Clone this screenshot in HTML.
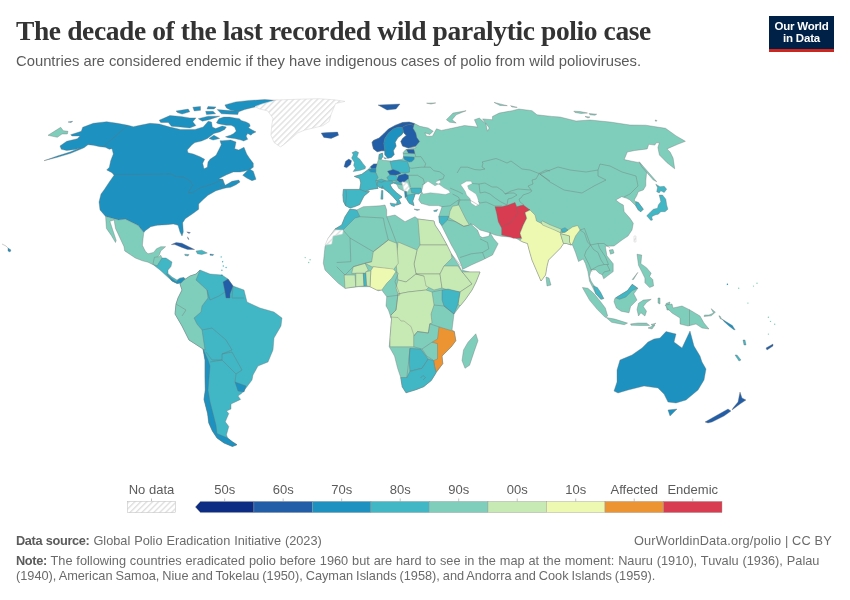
<!DOCTYPE html>
<html><head><meta charset="utf-8">
<style>
html,body{margin:0;padding:0;background:#fff;}
body{width:850px;height:600px;position:relative;overflow:hidden;font-family:"Liberation Sans",sans-serif;}
.title,.sub,.foot,.logo,svg{will-change:transform;}
.title{position:absolute;left:16px;top:15px;font-family:"Liberation Serif",serif;font-weight:bold;font-size:27.5px;color:#333;white-space:nowrap;letter-spacing:-0.39px;}
.sub{position:absolute;left:16px;top:53px;font-size:14.8px;color:#5b5b5b;white-space:nowrap;}
.logo{position:absolute;left:769px;top:16px;width:65px;height:33px;background:#002147;border-bottom:3px solid #ce261e;color:#fff;font-weight:bold;font-size:11.5px;line-height:12px;text-align:center;}
.logo div{position:relative;top:4px;letter-spacing:-0.2px;}
.foot{position:absolute;left:16px;font-size:12.75px;color:#6b6b6b;white-space:nowrap;}
.foot b{color:#5b5b5b;letter-spacing:-0.35px;}
svg{position:absolute;left:0;top:0;}
</style></head><body>
<div class="title">The decade of the last recorded wild paralytic polio case</div>
<div class="sub">Countries are considered endemic if they have indigenous cases of polio from wild polioviruses.</div>
<div class="logo"><div>Our World<br>in Data</div></div>
<svg width="850" height="600" viewBox="0 0 850 600">
<defs><pattern id="hatch" patternUnits="userSpaceOnUse" width="4.2" height="4.2" patternTransform="rotate(-45)"><rect width="4.2" height="4.2" fill="#fff"/><rect width="4.2" height="1.4" fill="#e0e0e0"/></pattern></defs>
<g stroke-linejoin="round"><path d="M44,160.7L57.3,156L70.7,151.8L80,148L75,149.5L66.7,150.5L61.3,149.3L60,146L66.7,141.3L77.3,138.7L80,136L72,136L70.7,134.7L81.3,131.3L82.7,127.3L93.3,123.3L106.7,121.7L117.3,123.3L128,125.3L133.3,126.7L140,125.3L150,123.3L159.2,124L169.9,127.1L180.6,129.4L191.3,129.4L195,129.4L203.2,127L208.2,121.2L211.5,122L212.3,127L215.6,128.6L222.2,126.1L226.3,127L224.7,129.4L219.7,131.9L213.9,133.5L207.4,138.5L201.6,141L195,142.6L192,144.7L187.3,150L188,152.7L193.3,154L200,156.7L204.7,159.3L202.7,163.3L204,168.7L207.3,167.3L208,162L210,159.3L216,155.3L218.7,150L221.3,144.7L220,140.7L222.7,140.7L230.7,140L236,142L234.7,148.7L238.7,150L244,147.3L246.7,154L249.3,158L253.3,163.3L253.3,167.3L249.3,170L244,171.3L240,172L233.3,172L226.7,174.7L218.7,178.7L222.7,179.3L224,182.7L225.3,185.3L232,181.3L238.7,180L240,182L236,184.7L230.7,187.3L225.3,188L216,190.7L208,195.3L202.7,200L198.7,204L198.7,209.3L193.3,213.3L185.3,218.7L182.7,222.7L183.3,232L182,236L180,232L178,225.3L173.3,224L166.7,224.7L157.3,225.3L150.7,226.7L145.3,230.7L143.8,232.6L138.1,225.5L132.5,222.7L125.4,219.2L118.4,219.9L105.6,216.4L100,210L99,202L101,194L104,190L109.3,182L114,175.3L112,172.7L106.7,170L109.3,167.3L110.7,160.7L113.3,154L112,148.7L109.3,149.3L105.3,147.3L100,146.7L93.3,145.3L88,144.7L84,147.8L70.7,153.3L57.3,157.3Z" fill="#1d91c0" stroke="#6f6f6f" stroke-width="0.35"/><path d="M209,138.5L213.9,135.2L219.7,138.5L213.1,140.1Z" fill="#1d91c0" stroke="#6f6f6f" stroke-width="0.35"/><path d="M242.7,175.3L249.3,168.7L253.3,171.3L256,179.3L252,180.7L246.7,178Z" fill="#1d91c0" stroke="#6f6f6f" stroke-width="0.35"/><path d="M216.4,122.8L218.9,118.7L223.8,117.1L229.6,117.1L234.5,117.9L239.5,118.7L241.1,120.4L246.1,122L249.4,123.7L250.2,126.1L248.5,127.8L252.7,130.2L256,131.9L252.7,133.5L251,135.2L247.7,133.5L246.1,136L247.7,139.3L243.6,141L241.1,140.1L234.5,138.5L228,137.7L225.5,136.8L230.4,135.2L233.7,133.5L236.2,131.1L234.5,127L231.2,125.3L226.3,125.3L222.2,124.5L218.1,123.7Z" fill="#1d91c0" stroke="#6f6f6f" stroke-width="0.35"/><path d="M159.2,120.2L169.9,115.6L180.6,116.4L189.8,117.9L195.9,117.9L192.8,121.8L195.9,125.6L189.8,127.9L180.6,127.1L171.4,126.3L168.3,122.5L160.7,122.5Z" fill="#1d91c0" stroke="#6f6f6f" stroke-width="0.35"/><path d="M198.3,118.7L208.2,116.2L219.7,116.2L209.8,119.5L202.4,121.2Z" fill="#1d91c0" stroke="#6f6f6f" stroke-width="0.35"/><path d="M224.9,104.9L235.6,101.9L249.4,100.4L264.7,99.6L277.7,100.4L266.2,104.2L254,107.2L244.8,109.5L238.7,111.8L231,110.3L226.5,108Z" fill="#1d91c0" stroke="#6f6f6f" stroke-width="0.35"/><path d="M176,111L188.2,109.1L189.8,111.8L182.1,114.1L177.5,112.6Z" fill="#1d91c0" stroke="#6f6f6f" stroke-width="0.35"/><path d="M192.8,107.2L200.5,106.5L200.5,110.3L194.3,111Z" fill="#1d91c0" stroke="#6f6f6f" stroke-width="0.35"/><path d="M205.7,111.3L213.1,111.3L215.6,113.8L206.5,114.6Z" fill="#1d91c0" stroke="#6f6f6f" stroke-width="0.35"/><path d="M217.2,109.6L238.7,111.3L237.8,114.6L221.4,113.8Z" fill="#1d91c0" stroke="#6f6f6f" stroke-width="0.35"/><path d="M208,106.5L216,107L214,109L207,109Z" fill="#1d91c0" stroke="#6f6f6f" stroke-width="0.35"/><path d="M255,106.6L262,104L276,100L299.5,99.2L318.5,98.7L334.4,99.8L345,101.4L335.5,103.5L333.4,108.8L331.2,114.1L329.1,121.5L322.8,125.7L314.3,127.8L304.8,130L297.4,133.1L290,139.5L283.6,144.8L280.4,146.9L274.1,142.6L270.9,135.2L271.9,124.6L273,118.3L267.7,110.9L259.2,108.8Z" fill="url(#hatch)" stroke="#d8d8d8" stroke-width="0.6"/><path d="M321.2,133.1L327,132.6L337.6,132.1L338.6,135.2L331.2,138.4L323.8,137.4Z" fill="#225ea8" stroke="#6f6f6f" stroke-width="0.35"/><path d="M48,135.3L60.7,127.3L63.3,130.7L68,131.3L67.3,134L62,134L57.3,137.3Z" fill="#7fcdbb" stroke="#6f6f6f" stroke-width="0.35"/><path d="M68,122L72.7,121.3L71,122.5Z" fill="#1d91c0" stroke="#6f6f6f" stroke-width="0.35"/><path d="M105.6,216.4L118.4,219.9L125.4,219.2L132.5,222.7L138.1,225.5L143.8,232.6L143.1,238.2L142.4,245.3L145.2,251L148,253.8L153.6,252.4L156.5,248.8L160.7,246.7L165.6,246.7L160.7,251L159.3,255.2L156.5,258L153.6,265L148,262.2L142.4,260.8L135.3,258L124.7,250.9L124,246.7L115.5,228.4L114.1,219.9L109.9,221.3L116.2,240.4L115.5,242.5L111.3,235.4L106.4,228.4Z" fill="#7fcdbb" stroke="#6f6f6f" stroke-width="0.35"/><path d="M153.6,265L156.5,258L160,258L166,258L172,262L171,266.5L168,270L168,273.5L172,277L177,280L180,278L184,277.5L186,280L185,282.5L177,283.4L172,281L166,275.5L160,270Z" fill="#41b6c4" stroke="#6f6f6f" stroke-width="0.35"/><path d="M152.9,264.4L154.4,257.3L159.3,256.6L160.7,255.2L162.1,258L159.3,262.2L157.2,265.8Z" fill="#7fcdbb" stroke="#6f6f6f" stroke-width="0.35"/><path d="M166.4,273.5L170.6,277.8L176.2,282L179,279.2L183.3,277.8L186,280L185,282.5L177,283.4L172,281Z" fill="#1d91c0" stroke="#6f6f6f" stroke-width="0.35"/><path d="M171.3,244.6L176.2,242.5L181.9,243.2L188.9,246.7L194.6,249.5L187.5,249.5L181.9,247.4L174.8,244.6Z" fill="#225ea8" stroke="#6f6f6f" stroke-width="0.35"/><path d="M196,251L201.7,250.2L207.3,253L201.7,254.5L197.4,253.8Z" fill="#41b6c4" stroke="#6f6f6f" stroke-width="0.35"/><path d="M184.7,254.2L189,254.5L188,256L185,255.5Z" fill="#41b6c4" stroke="#6f6f6f" stroke-width="0.35"/><path d="M210,254L213.7,254.5L213,255.5L210,255.2Z" fill="#1d91c0" stroke="#6f6f6f" stroke-width="0.35"/><path d="M186.8,231.9L190.4,232.6L189,233.5Z" fill="#225ea8" stroke="#6f6f6f" stroke-width="0.35"/><path d="M187.5,236.8L189,239.6L188,239Z" fill="#225ea8" stroke="#6f6f6f" stroke-width="0.35"/><path d="M8,248L11,250L10,252L8,251Z" fill="#1d91c0" stroke="#6f6f6f" stroke-width="0.35"/><path d="M184,280L190,276L196,274L200,270L210,274L222,275L228,279L233,286L244,290L247,302L260,308L274,312L282,318L281,326L274,338L273,350L268,362L258,366L253,375L252,380L246,388L242,393L238,396L240.6,399.4L231,404L231,409L226.5,411L228.8,413.5L225.3,421.8L228.8,426.5L226.5,434.7L227.6,438L232.4,441.8L237,444.7L232.4,446.5L224,443L217,438L212.4,431L208.8,423L207.6,413.5L204,399.4L205.3,390L205,376L205,360L203,349L189,340L182,326L175,314L176,304L178,298L182,290L180,284Z" fill="#41b6c4" stroke="#6f6f6f" stroke-width="0.35"/><path d="M184,280L190,276L196,274L200,270L196,280L207,290L208,298L202,306L201,312L194,318L197,324L202,330L205,350L203,349L189,340L182,326L175,314L176,304L178,298L182,290L180,284Z" fill="#7fcdbb" stroke="#6f6f6f" stroke-width="0.35"/><path d="M223,282L228,279L233,286L230,294L230,298L226,298L225,292Z" fill="#225ea8" stroke="#6f6f6f" stroke-width="0.35"/><path d="M203,349L208,360L210,366L208,390L210,401.8L216,425.3L217,433.5L227.6,438L232.4,441.8L237,444.7L232.4,446.5L224,443L217,438L212.4,431L208.8,423L207.6,413.5L204,399.4L205.3,390L205,376L205,360Z" fill="#1d91c0" stroke="#6f6f6f" stroke-width="0.35"/><path d="M235,382L246,386L244,392L238,391Z" fill="#1d91c0" stroke="#6f6f6f" stroke-width="0.35"/><path d="M372.1,142.3L373.5,140.4L379.1,138.1L383.8,133.8L388.5,129.1L395.1,125.4L402.6,122.5L409.2,122.1L414.4,123.5L420,126.3L428.2,128L433.2,131.2L429.9,134.5L424.9,132.9L426.6,136.2L432.4,136.2L436.5,128.8L441.4,130.4L453,128L464.5,125.5L477.7,127.1L474.4,119.7L479.3,118.1L485.9,123.8L487.5,131.2L489.2,128L482.6,118.9L492.5,119.7L492.5,116.4L499.1,113.1L512.3,110.7L518.8,109L532,110.7L537,114.8L551.8,116.4L560,117L576,121L590,120L610,122L630,125L645.6,125.2L665.5,128.3L676.2,135.9L685.4,141.3L677.7,144.3L667,148.9L670.1,152L673.1,158.1L674.7,168.8L667,162.7L659.4,155L657.9,147.4L659.4,142.8L656.3,142.8L654.8,145.1L648.7,144.3L647.2,148.9L634.9,150.5L627.3,152L624.2,159.6L631.9,161.2L639.5,162.7L646.7,171.7L645.8,180.8L645.8,185.8L643.3,190L638.3,191.7L636.7,195.8L634.2,200L635.8,201.7L638.3,202.5L643.3,209.2L640.8,211.7L638.3,210L635.8,205.8L634,204L630,200L626.7,198.3L621.7,196.7L615.8,200L620,203.3L623.3,205L624.2,211.7L630,218.3L633.3,223.3L632,230L628,236L622,240L614,246L605.3,246.3L606.9,255.8L613.2,263.7L613.2,271.6L603.7,278.8L602.2,274.8L599,273.2L595.8,270L591.1,270L589.5,276.4L591.1,281.1L594.2,285.9L599,290.6L603.7,298.5L600.6,299.3L595.8,293.8L592.7,287.5L589.5,281.1L587.9,271.6L585.5,263.7L583.2,259L578.5,261.5L575.5,252.5L572.5,245L571,245L566.5,243.5L563.5,243.5L560.5,248L554.5,254L548.5,260L547,266L545.5,275L541,281L536.5,270.5L532,260L529,249.5L527.5,243.5L523,242L520,240.5L512,236L510,237L501.3,236.3L495,235L488.8,232.5L480,230L473.8,225L470,223.8L471.3,224.5L477.5,230L480,236.3L482.5,237.5L488.8,236.3L490,232.5L493.8,238.8L498.1,243.8L495,250L492.5,255L482.5,260L471.3,265L462.5,269.4L461.3,265L456.3,253.8L451.3,245L446.3,235L441.3,225L439.4,221.3L438.8,216.3L442,206.8L438.5,205.6L429.2,205.6L421,203.3L418.7,199.8L419.8,196.3L421.6,191.6L418.7,194L415.2,194L412.8,201L414,205.6L409.3,203.3L407,199.8L405.2,197.5L404.7,191.6L398.7,188.4L396.5,184L393.3,182.9L390,184.6L392.2,188.4L396.5,192.7L402,197L398.7,199.2L400.9,203.5L396.5,205.2L397.1,201.4L393.3,197L389,192.7L383.5,188.4L379.2,187.3L377,185.1L378.1,188.4L370.5,189.4L365.1,191.6L369.4,191.6L364,196L361.8,200.3L359.7,204.6L354.3,206.8L349.9,207.9L345.6,205.7L343.4,201.4L342.9,194.9L343.4,189.4L359.7,189.4L360.8,182.9L359.7,178.6L354.3,176.4L361.8,174.3L368.4,169.4L370.5,166.7L373.8,164L377,164L378.2,160.2L379.1,154.5L382.4,153.1L382.9,156.4L381,159.2L382.9,160.2L391.4,161.1L402.6,159.2L403.6,156.4L403.1,152.6L405.5,149.8L408.3,148.9L415.8,148L415.8,147L408.3,147.9L402.6,146.1L400.8,141.4L402.6,138.5L406.4,135.2L404.5,133.8L403.6,131.9L401.7,134.8L397.9,137.6L395.1,142.3L396.1,146.1L393.2,150.8L394.2,154.5L391.4,157.4L387.6,158.3L384.8,154.5L384.8,150.8L381.5,150.8L377.2,151.7L373.5,148.9L372.5,145.1Z" fill="#7fcdbb" stroke="#6f6f6f" stroke-width="0.35"/><path d="M422.2,189.3L423.3,184.7L428,181.2L431.5,183.5L435,185.8L438.5,184L440.8,182.3L439.7,180L435,182.3L439.7,184.7L444.3,188.1L449,190.5L450.1,192.8L445.5,194.6L437.3,193.4L430.3,192.8L423.3,194L421.6,191.6Z" fill="#fff" stroke="#888" stroke-width="0.3"/><path d="M460.6,184.7L466.5,181.2L471.1,181.2L472.3,183.5L467.6,185.8L468.8,189.3L473,192L476,194L477.5,197.5L478.5,201L479.3,204.5L475.8,206.2L471.1,203.3L470,198.6L466.5,195.1L465.3,191.6L463,188.1Z" fill="#fff" stroke="#888" stroke-width="0.3"/><path d="M414,209.1L419.8,209.7L417,210.5Z" fill="#41b6c4" stroke="#6f6f6f" stroke-width="0.35"/><path d="M372.1,142.3L373.5,140.4L379.1,138.1L383.8,133.8L388.5,129.1L395.1,125.4L402.6,122.5L409.2,122.1L414.4,123.5L413.9,125.4L410.2,124.4L405.5,125.4L402.6,127.2L397.9,127.2L393.2,129.1L388.5,132.9L384.8,138.5L383.8,143.2L384.8,150.8L381.5,150.8L377.2,151.7L373.5,148.9L372.5,145.1Z" fill="#225ea8" stroke="#6f6f6f" stroke-width="0.35"/><path d="M383.8,143.2L384.8,138.5L388.5,132.9L393.2,129.1L397.9,127.2L402.6,127.2L403.6,131.9L401.7,134.8L397.9,137.6L395.1,142.3L396.1,146.1L393.2,150.8L394.2,154.5L391.4,157.4L387.6,158.3L384.8,154.5L384.8,150.8Z" fill="#1d91c0" stroke="#6f6f6f" stroke-width="0.35"/><path d="M402.6,127.2L405.5,125.4L410.2,124.4L413.9,125.4L413,128.2L415.8,132.9L416.8,137.6L419.6,141.4L415.8,146.1L408.3,147.9L402.6,146.1L400.8,141.4L402.6,138.5L406.4,135.2L404.5,133.8L403.6,131.9Z" fill="#225ea8" stroke="#6f6f6f" stroke-width="0.35"/><path d="M406.4,149.4L413.9,149.4L414.9,153.6L408.3,153.1Z" fill="#225ea8" stroke="#6f6f6f" stroke-width="0.35"/><path d="M403.4,156.5L413.9,157L414.3,159L412,161.6L409.2,162.1L404.5,159.6Z" fill="#1d91c0" stroke="#6f6f6f" stroke-width="0.35"/><path d="M379.1,154.5L382.4,153.1L382.9,156.4L381,159.2L379.1,159.2Z" fill="#41b6c4" stroke="#6f6f6f" stroke-width="0.35"/><path d="M383.8,157.4L386.6,158.3L385,159Z" fill="#41b6c4" stroke="#6f6f6f" stroke-width="0.35"/><path d="M352.1,152.6L355.9,151L358.6,152.6L357,156.9L359.7,159.1L362.9,163.4L365.6,166.7L365.1,168.8L359.7,170.5L353.2,171.6L355.3,168.3L353.7,165.6L354.3,162.3L351.6,158L353.2,154.8Z" fill="#41b6c4" stroke="#6f6f6f" stroke-width="0.35"/><path d="M344,166.7L345.6,161.3L348.8,159.1L351.6,160.7L350.5,164.5L346.7,167.8Z" fill="#225ea8" stroke="#6f6f6f" stroke-width="0.35"/><path d="M370.5,166.7L373.8,164L377,164L375.9,168.3L371.6,168.8Z" fill="#225ea8" stroke="#6f6f6f" stroke-width="0.35"/><path d="M368.4,169.4L371.6,168.8L375.9,168.3L375.9,172.6L370.5,172.1Z" fill="#1d91c0" stroke="#6f6f6f" stroke-width="0.35"/><path d="M354.3,176.4L361.8,174.3L368.4,169.4L370.5,172.1L375.9,172.6L378.1,177.5L375.9,180.8L377,185.1L378.1,188.4L370.5,189.4L365.1,191.6L359.7,189.4L360.8,182.9L359.7,178.6Z" fill="#41b6c4" stroke="#6f6f6f" stroke-width="0.35"/><path d="M343.4,189.4L359.7,189.4L365.1,191.6L369.4,191.6L364,196L361.8,200.3L359.7,204.6L354.3,206.8L349.9,207.9L345.6,205.7L343.4,201.4L342.9,194.9Z" fill="#41b6c4" stroke="#6f6f6f" stroke-width="0.35"/><path d="M390,161.3L398.7,160.2L407.4,161.3L409.5,167.8L409.5,172.1L405.2,173.2L398.7,172.6L392.2,169.9L391.1,165.6Z" fill="#41b6c4" stroke="#6f6f6f" stroke-width="0.35"/><path d="M387.5,171.2L393.3,169.4L398.7,171.5L401,173.5L396,175.3L390,175Z" fill="#225ea8" stroke="#6f6f6f" stroke-width="0.35"/><path d="M398.7,175.4L405.2,173.7L408.5,175.4L408.5,178.6L404.1,181.9L399.8,182.4L396.5,179.7Z" fill="#225ea8" stroke="#6f6f6f" stroke-width="0.35"/><path d="M386.8,177.5L390,174.8L395.5,175.4L397.6,177.5L396.5,180.8L388.9,180.8Z" fill="#41b6c4" stroke="#6f6f6f" stroke-width="0.35"/><path d="M375.9,180.8L381.4,179.1L385.7,180.8L381.4,182.4Z" fill="#41b6c4" stroke="#6f6f6f" stroke-width="0.35"/><path d="M377,181.9L381.4,182.4L385.7,180.8L392.2,180.8L393.3,182.9L390,184.6L392.2,188.4L396.5,192.7L402,197L398.7,199.2L400.9,203.5L396.5,205.2L397.1,201.4L393.3,197L389,192.7L383.5,188.4L379.2,187.3L377,185.1Z" fill="#41b6c4" stroke="#6f6f6f" stroke-width="0.35"/><path d="M390,203L396.5,204.1L394.4,206.8L391.1,205.7Z" fill="#41b6c4" stroke="#6f6f6f" stroke-width="0.35"/><path d="M381.4,190.5L383,190.5L383,199.2L380.8,199.2Z" fill="#41b6c4" stroke="#6f6f6f" stroke-width="0.35"/><path d="M381.4,188.4L382.6,185.8L383,188Z" fill="#41b6c4" stroke="#6f6f6f" stroke-width="0.35"/><path d="M393.3,182.9L396.5,181.5L399.8,182.4L403,185.1L396.5,184Z" fill="#41b6c4" stroke="#6f6f6f" stroke-width="0.35"/><path d="M402,181.9L407.4,182.9L409.5,188.4L407.4,191.6L404.1,190.5L403,186.2Z" fill="url(#hatch)" stroke="#d8d8d8" stroke-width="0.6"/><path d="M404.7,191.6L406.4,191.6L407,196.3L405.2,197.5Z" fill="#1d91c0" stroke="#6f6f6f" stroke-width="0.35"/><path d="M407,195.1L415.2,194L412.8,201L414,205.6L409.3,203.3L407,199.8Z" fill="#41b6c4" stroke="#6f6f6f" stroke-width="0.35"/><path d="M410.5,188.1L421,188.1L421.6,191.6L418.7,194L411.7,192.8Z" fill="#41b6c4" stroke="#6f6f6f" stroke-width="0.35"/><path d="M433.6,210.6L437.8,209.4L436.5,211.5L434,211.6Z" fill="#41b6c4" stroke="#6f6f6f" stroke-width="0.35"/><path d="M452.5,206.3L458.8,205L462.5,212.5L466.3,220L469.4,225L463.8,226.3L455,221.3L448.8,217.5L450,211.3Z" fill="#c7e9b4" stroke="#6f6f6f" stroke-width="0.35"/><path d="M438.8,216.3L448.8,216.3L447.5,220L441.9,225.6L439.4,222.5Z" fill="#41b6c4" stroke="#6f6f6f" stroke-width="0.35"/><path d="M495,206.7L501.7,206.7L508.3,205L515,202.5L516.7,206.7L520,205.8L523.3,205L530,210L525,212.5L526.7,218.3L523.3,225L520,233.3L521.7,238.3L513.3,238.3L510,237L501.7,235L501.7,228.3L498.3,221.7L496.7,213.3Z" fill="#d73c50" stroke="#6f6f6f" stroke-width="0.35"/><path d="M529,209L535,215L536.5,221L542.5,224L554.5,229.2L561.2,233L565,232.2L572.5,227L577.7,225.5L580,230L575.5,236L572.5,243.5L571,245L569.5,242L569.5,236L560.5,233.7L562,239L563.5,243.5L560.5,248L554.5,254L548.5,260L547,266L545.5,275L541,281L536.5,270.5L532,260L529,249.5L527.5,243.5L523,242L520,240.5L521.7,238.3L520,233.3L523.3,225L526.7,218.3L525,212.5L530,210Z" fill="#edf8b1" stroke="#6f6f6f" stroke-width="0.35"/><path d="M541,222L542.5,225L554.5,230L560.5,232.8L561.2,229.2L550,224.8L542.5,221Z" fill="#c7e9b4" stroke="#6f6f6f" stroke-width="0.35"/><path d="M560.5,233.7L569.5,236L569.5,242L571,245L566.5,243.5L563.5,243.5L562,239Z" fill="#c7e9b4" stroke="#6f6f6f" stroke-width="0.35"/><path d="M561.2,229.2L565,227.7L568,230L565,232.2L562,232.2Z" fill="#41b6c4" stroke="#6f6f6f" stroke-width="0.35"/><path d="M546,277L549,278L551,285L547,286Z" fill="#7fcdbb" stroke="#6f6f6f" stroke-width="0.35"/><path d="M593.4,285.9L597.4,287.5L600.6,292.2L603.7,298.5L601.4,299.3L595.8,293.8Z" fill="#41b6c4" stroke="#6f6f6f" stroke-width="0.35"/><path d="M582.4,287.5L587.9,288.3L594.2,293.8L600.6,301.7L605.3,308L607.7,316L605.3,317.5L597.4,309.6L589.5,300.1Z" fill="#7fcdbb" stroke="#6f6f6f" stroke-width="0.35"/><path d="M606.1,317.5L614.8,319.1L627.5,323.1L624.3,324.7L611.6,322.3Z" fill="#7fcdbb" stroke="#6f6f6f" stroke-width="0.35"/><path d="M630.6,323.9L638,323L646.5,323.1L649.6,325.4L640,325.5L631,325.2Z" fill="#7fcdbb" stroke="#6f6f6f" stroke-width="0.35"/><path d="M651,324.5L655.9,323.2L653,326Z" fill="#7fcdbb" stroke="#6f6f6f" stroke-width="0.35"/><path d="M614.8,298.5L619.6,295.4L627.5,290.6L632.2,284.3L637.8,288.3L633.8,293.8L637,300.1L630.6,306.5L629,312.8L621.1,311.2L616.4,308L614,301.7Z" fill="#7fcdbb" stroke="#6f6f6f" stroke-width="0.35"/><path d="M615.6,297.8L627.5,290.6L632.2,284.3L637.8,288.3L632.2,290.6L625.9,297L619.6,299.3Z" fill="#41b6c4" stroke="#6f6f6f" stroke-width="0.35"/><path d="M638.5,303.3L643.3,300.1L651.2,299.3L646.5,302.5L643.3,306.5L646.5,311.2L644.9,316L640.9,312.8L638.5,316L637,309.6Z" fill="#7fcdbb" stroke="#6f6f6f" stroke-width="0.35"/><path d="M637,254.2L641.7,255L640.9,263.7L646.5,267.7L651.2,273.2L649.6,276.4L652.8,279.6L653.6,285.9L649.6,287.5L644.9,282.7L644.9,278L641.7,271.6L638.5,265.3Z" fill="#7fcdbb" stroke="#6f6f6f" stroke-width="0.35"/><path d="M632.2,279.6L637.8,272.4L633.5,279.5Z" fill="#7fcdbb" stroke="#6f6f6f" stroke-width="0.35"/><path d="M658,298L660,298L660,304L658,303Z" fill="#7fcdbb" stroke="#6f6f6f" stroke-width="0.35"/><path d="M666,303.5L670,302L668,308L672,310L667,310Z" fill="#7fcdbb" stroke="#6f6f6f" stroke-width="0.35"/><path d="M665,305L672,304L673,308L682,306L690,310L700,316L704,323L709,329L702,328L696,324L688,326L680,324L680,318L672,313L668,309Z" fill="#7fcdbb" stroke="#6f6f6f" stroke-width="0.35"/><path d="M648,328L655,325L652,329Z" fill="#7fcdbb" stroke="#6f6f6f" stroke-width="0.35"/><path d="M609.3,250L613,249.5L614,253L610.5,254.2Z" fill="#7fcdbb" stroke="#6f6f6f" stroke-width="0.35"/><path d="M634,236L636,236L636,242L634,242Z" fill="url(#hatch)" stroke="#d8d8d8" stroke-width="0.6"/><path d="M635.8,201.7L638.3,202.5L643.3,209.2L640.8,211.7L638.3,210L635.8,205.8Z" fill="#41b6c4" stroke="#6f6f6f" stroke-width="0.35"/><path d="M655.8,184.2L660,186.7L664.2,186.3L666.7,189.2L664.2,192.5L660.8,190.8L659.2,192.9L656.7,191.7L657.5,187.5Z" fill="#41b6c4" stroke="#6f6f6f" stroke-width="0.35"/><path d="M659.2,195L662.5,195L665.8,199.2L666.7,205L667.9,209.2L665,211.7L660.8,211.7L658.3,214.2L655,215L651.7,216.7L652.5,220L650.8,220.4L646.7,215.8L650,212.5L653.3,209.2L657.5,208.3L658.3,205L660.8,201.7L660,198.3Z" fill="#41b6c4" stroke="#6f6f6f" stroke-width="0.35"/><path d="M639.2,161.7L656.7,181.7L653.3,180L641.7,166.7Z" fill="#7fcdbb" stroke="#6f6f6f" stroke-width="0.35"/><path d="M446.4,119.7L453,113.1L466.1,110.7L456.2,114.8L452.1,119.7L456.2,123L449.7,122.2Z" fill="#7fcdbb" stroke="#6f6f6f" stroke-width="0.35"/><path d="M378,105L400,104L396,109L387,110Z" fill="#225ea8" stroke="#6f6f6f" stroke-width="0.35"/><path d="M573.8,111.2L580,111.5L587.5,113L581,113.5L575,112.5Z" fill="#7fcdbb" stroke="#6f6f6f" stroke-width="0.35"/><path d="M589,113.5L596.7,114.2L595,115.2L590,114.8Z" fill="#7fcdbb" stroke="#6f6f6f" stroke-width="0.35"/><path d="M585,116.5L590,117L588,118Z" fill="#7fcdbb" stroke="#6f6f6f" stroke-width="0.35"/><path d="M655,120L657,120.5L656,121.5Z" fill="#7fcdbb" stroke="#6f6f6f" stroke-width="0.35"/><path d="M426.6,103.2L435.7,102.9L431,104Z" fill="#7fcdbb" stroke="#6f6f6f" stroke-width="0.35"/><path d="M494.1,102.4L507.3,105.7L500,105.5Z" fill="#7fcdbb" stroke="#6f6f6f" stroke-width="0.35"/><path d="M510.6,105.7L517.2,107.4L512,107Z" fill="#7fcdbb" stroke="#6f6f6f" stroke-width="0.35"/><path d="M335,229L341.7,225L345,216.7L350,209L356.7,210L363.3,206.7L380,205.8L385,205L386.7,210L386.7,216.7L395,215L405,221.7L415,216.7L418,219L434,221L435,225L440,232.5L446.3,243.8L451.3,253.8L458.8,265L461.3,270L470,272L480,272L476,282L472,290L465,300L460,306L454,314L452,330L454.3,331.5L455.8,340.7L451.3,346.8L442,356L442.8,363.7L436,372.9L431.3,380.5L423.7,386.7L416,389.7L406,392.8L402.2,386.7L400.7,377.5L397.6,368.3L394.5,356L389.2,346.8L390,337.6L391.5,319.2L388.4,310L386,306L386.7,296.7L381.7,290L378.3,290.8L370,286.7L358.3,286.7L345,288.3L338.3,283.3L331.7,276.7L325,270L323.3,263.3L325,246.7L328.3,238Z" fill="#7fcdbb" stroke="#6f6f6f" stroke-width="0.35"/><path d="M335,229L341.7,225L345,216.7L350,209L356.7,210L360,216.7L355,218L343,230Z" fill="#41b6c4" stroke="#6f6f6f" stroke-width="0.35"/><path d="M325,245L328.3,238L335,230L343.3,230L342.5,234L333,236L331.7,244Z" fill="url(#hatch)" stroke="#d8d8d8" stroke-width="0.6"/><path d="M418,219L434,221L435,225L440,232.5L446.3,243.8L447,245L420,245Z" fill="#c7e9b4" stroke="#6f6f6f" stroke-width="0.35"/><path d="M420,245L447,245L451.3,253.8L452,258L444,266L440,274L416,274L414,264L417,250Z" fill="#c7e9b4" stroke="#6f6f6f" stroke-width="0.35"/><path d="M398,242L417,250L414,264L416,274L406,282L398,280L396,264L397,252Z" fill="#c7e9b4" stroke="#6f6f6f" stroke-width="0.35"/><path d="M373.3,251.7L388.3,240L396.7,243.3L398.3,263.3L393.3,270L371.7,266.7L365,263.3L371.7,261.7Z" fill="#c7e9b4" stroke="#6f6f6f" stroke-width="0.35"/><path d="M370.8,270.8L373.3,266.7L393.3,269L395.8,271.7L391.7,278.3L386.7,283.3L381.7,290L376.7,290L370,286.7Z" fill="#edf8b1" stroke="#6f6f6f" stroke-width="0.35"/><path d="M353.3,266.7L365,263.3L368.3,270L365,273.3L351.7,273.3Z" fill="#c7e9b4" stroke="#6f6f6f" stroke-width="0.35"/><path d="M344.2,275L355,275L355.8,286.7L345,288.3Z" fill="#c7e9b4" stroke="#6f6f6f" stroke-width="0.35"/><path d="M355.8,273.3L363.3,273.3L364,286L355.8,286.7Z" fill="#c7e9b4" stroke="#6f6f6f" stroke-width="0.35"/><path d="M363.3,273.3L365.8,273.3L366.7,285.8L364,286Z" fill="#41b6c4" stroke="#6f6f6f" stroke-width="0.35"/><path d="M365.8,271.7L370.8,270.8L370,286.7L366.7,285.8Z" fill="#c7e9b4" stroke="#6f6f6f" stroke-width="0.35"/><path d="M398,280L406,282L416,274L424,276L434,282L426,290L408,292L398,294L396,288Z" fill="#c7e9b4" stroke="#6f6f6f" stroke-width="0.35"/><path d="M416,274L440,274L442,288L434,290L426,286L424,276Z" fill="#c7e9b4" stroke="#6f6f6f" stroke-width="0.35"/><path d="M440,274L444,266L458,266L462,272L464,274L472,284L460,292L448,290L442,288Z" fill="#c7e9b4" stroke="#6f6f6f" stroke-width="0.35"/><path d="M462,272L470,272L480,272L476,282L472,290L465,300L460,306L458,304L460,292L472,284L464,274Z" fill="#c7e9b4" stroke="#6f6f6f" stroke-width="0.35"/><path d="M442,290L448,289L460,292L458,304L454,314L444,306L442,300Z" fill="#41b6c4" stroke="#6f6f6f" stroke-width="0.35"/><path d="M398,294L408,292L426,290L432,292L434,305L431,314L432,323L429.8,323.8L428.3,333L417.5,331.5L413.7,336L413.7,346.8L390,346.8L390,337.6L391.5,319.2L391,315L396,310Z" fill="#c7e9b4" stroke="#6f6f6f" stroke-width="0.35"/><path d="M432,342.2L437.5,339L439,326.9L454.3,331.5L455.8,340.7L451.3,346.8L442,356L442.8,363.7L436,372L434.4,366.7L433.6,360.6L437.5,359L437.5,343.7Z" fill="#ec9432" stroke="#6f6f6f" stroke-width="0.35"/><path d="M409.9,348.3L420.6,349L428.3,359L422,368.3L409.9,371.3L409,359Z" fill="#41b6c4" stroke="#6f6f6f" stroke-width="0.35"/><path d="M400.7,377.5L406.8,377.5L409.9,371.3L422,368.3L428.3,359L433.6,360.6L436,372.9L431.3,380.5L423.7,386.7L416,389.7L406,392.8L402.2,386.7Z" fill="#41b6c4" stroke="#6f6f6f" stroke-width="0.35"/><path d="M462,360.6L463.5,349.9L468,342.2L475.8,333.8L478,340.7L474.2,351.4L469.6,365.2L465,368.3Z" fill="#7fcdbb" stroke="#6f6f6f" stroke-width="0.35"/><path d="M614,391L617,382L617,370L620,360L632,355L642,348L648,342L654,339L660,338L666,331.6L676,334L674,342L682,348L690,331L694,346L700,356L702,362L706,369L704,380L698,390L686,400L676,403L668,402L664,394L658,388L644,386L628,390L618,393Z" fill="#1d91c0" stroke="#6f6f6f" stroke-width="0.35"/><path d="M668,410L677,409L670,416Z" fill="#1d91c0" stroke="#6f6f6f" stroke-width="0.35"/><path d="M705,422L712,418L728,409L731,411L724,416L712,422L708,423Z" fill="#225ea8" stroke="#6f6f6f" stroke-width="0.35"/><path d="M732,410L740,404L746,400L742,398L740,392L738,402L733,408Z" fill="#225ea8" stroke="#6f6f6f" stroke-width="0.35"/><path d="M718.9,315.8L720,316L721.8,319.3L720.5,319Z" fill="#7fcdbb" stroke="#6f6f6f" stroke-width="0.35"/><path d="M722,319L726.7,322.1L732.4,325.6L735.2,329.9L733.5,329.5L729,326L724,321.5Z" fill="#1d91c0" stroke="#6f6f6f" stroke-width="0.35"/><path d="M743,340L745,340L746,345L744,345Z" fill="#41b6c4" stroke="#6f6f6f" stroke-width="0.35"/><path d="M735,355L737,355L741,360L739,361Z" fill="#41b6c4" stroke="#6f6f6f" stroke-width="0.35"/><path d="M766,348L773,344L773,346L767,350Z" fill="#225ea8" stroke="#6f6f6f" stroke-width="0.35"/><path d="M704.1,316.5L711.2,315.8L715.4,312.2L711.2,308.7L713.5,313L709,315L704.5,315Z" fill="#7fcdbb" stroke="#6f6f6f" stroke-width="0.35"/></g>
<g fill="none" stroke="#6f6f6f" stroke-width="0.35"><path d="M2,244L6,246L8,248"/><path d="M114,174.4L140,174.4L171.3,174L174.7,176L184,177.3L190.7,181.3L192.7,185.3L188,192.7L192,192.7L201.3,187.3L210.7,184.7L217.3,182L222.7,179.3L224,182.7L220,186L225.3,188"/><path d="M128,125.3L104,146"/><path d="M207,290L210,300L219,296L225,292"/><path d="M233,286L232,298L244,298"/><path d="M202,330L212,328L226,340L232,350L222,354L222,360L212,360L206,352"/><path d="M222,354L232,352L242,370L236,374L222,360"/><path d="M236,374L235,382"/><path d="M210,362L222,360"/><path d="M176,304L186,310L182,316"/><path d="M403.1,153.6L414.9,153.6L415.8,156.4"/><path d="M346,190L346.5,196L345.5,205.5"/><path d="M409.5,167.8L411.7,168.3L421,167.2L424.5,167.2L425.7,163.7L421,156.7L415.2,156.7L413.9,157.4"/><path d="M424.5,167.2L430.3,167.2L433.8,170.7L439.7,171.8L444.3,175.3L443.1,178.8L438.5,180"/><path d="M408.5,175.4L409.3,175.3L417.5,175.3L423.3,178.8L424.5,183.5L422.2,184.7"/><path d="M408.5,178.6L410.5,187"/><path d="M450.1,188.1L458.3,191.6L463,194"/><path d="M452.5,194L458.3,197L460,200L458.3,204.5"/><path d="M516.7,206.7L518.3,213.3L510,223.3L505,225L501.7,228.3"/><path d="M580,230L584.5,228.5L590.5,245L598,243.5L604,243.5L610,248"/><path d="M580,230L584.5,233L587.5,242L590.5,245L586,251L584.5,255.5L589,264.5L592,272"/><path d="M590.5,245L593.5,249.5L598,252.5L601,260L604,264.5L598,266L591.1,270"/><path d="M598,243.5L599.5,248L605.5,257L608.5,264.5L604,264.5"/><path d="M607,264.5L610,270.5L604,272L602.2,274.8"/><path d="M457.1,173L460.6,167.2L467.6,167.2L474.6,169.5L480,170L485,169L482,167L483,163L482,162L496,158.5L500,160L507,163L511,161L522,169L530,170L539,173.5L546,170L550,171"/><path d="M539,173.5L550,181"/><path d="M539,173.5L536,179L532,180L533,184L528,186L532,191L529,193L523,195L521,198L519,199L520,202L524,205"/><path d="M472.3,183.5L479,184L485,183L492,187L497,187L503,191L505,194L511,191L518,189L531,190"/><path d="M479,184L480,193L485,192L490,194L495,198L501,202L507,205"/><path d="M507,205L508,199L512,198L517,195L514,193L510,193L505,194"/><path d="M478.1,201L480,203L486,202L495,206L502,206"/><path d="M540,174L558,167L570,170L586,172L598,170L598,176L606,180L594,186L582,193L564,190L550,182L540,174"/><path d="M598,170L600,164L610,166L622,172L636,176L638,186L630,194L624,197"/><path d="M441.7,206.7L450,205.8L458.3,200L458.3,205"/><path d="M458.3,200L470,200L478.3,205"/><path d="M447.5,220L455,221.3L463.8,226.3L469.4,225"/><path d="M460,257.5L471.3,253.8L482.5,252.5L488.8,248.8L487.5,242.5L480,238.8"/><path d="M482.5,252.5L485,258.8"/><path d="M451.3,253.8L458,262L461,266"/><path d="M343,230L350,238L373.3,251.7L388.3,240"/><path d="M360,216.7L383.3,218L385,226.7L388.3,240"/><path d="M386.7,216.7L396.7,243.3"/><path d="M350,238L350.8,261.7L336.7,262.5"/><path d="M371.7,261.7L365,263.3L353.3,266.7L345,275L336.7,266.7"/><path d="M398,294L396,310L391,315"/><path d="M395.8,271.7L398.3,273.3L395,281.7L400,295L386.7,296.7"/><path d="M434,305L444,306L454,314"/><path d="M432,292L442,290"/><path d="M413.7,336L417.5,331.5L428.3,333L429.8,323.8L439,326.9"/><path d="M413.7,346.8L422,349L432,342.2"/><path d="M409.9,348.3L409,359L406.8,377.5"/><path d="M422,349L426.7,356L433,360"/><path d="M390,317L398,317.5L401,321L404,321L411,326.5L414,335.5"/><path d="M420.5,378L423,375.5L425.5,377.5L423,380"/><path d="M689.5,309.5L689.5,326"/></g>
<g><circle cx="221.2" cy="256.9" r="0.7" fill="#41b6c4"/><circle cx="222.6" cy="261.8" r="0.7" fill="#41b6c4"/><circle cx="223.3" cy="266" r="0.7" fill="#41b6c4"/><circle cx="226.1" cy="267.5" r="0.7" fill="#41b6c4"/><circle cx="221.9" cy="270.3" r="0.7" fill="#41b6c4"/><circle cx="221.9" cy="275.2" r="0.7" fill="#1d91c0"/><circle cx="305.2" cy="257.6" r="0.7" fill="#7fcdbb"/><circle cx="310.1" cy="259.7" r="0.7" fill="#7fcdbb"/><circle cx="308.7" cy="262.5" r="0.7" fill="#7fcdbb"/><circle cx="727.4" cy="284.3" r="0.7" fill="#1d91c0"/><circle cx="738.7" cy="288.2" r="0.7" fill="#7fcdbb"/><circle cx="753.5" cy="286.1" r="0.7" fill="#7fcdbb"/><circle cx="757" cy="283.3" r="0.7" fill="#7fcdbb"/><circle cx="747.9" cy="303.1" r="0.7" fill="#7fcdbb"/><circle cx="768.4" cy="317.2" r="0.7" fill="#7fcdbb"/><circle cx="770.5" cy="321.4" r="0.7" fill="#7fcdbb"/><circle cx="774.7" cy="324.2" r="0.7" fill="#7fcdbb"/><circle cx="768.4" cy="334.1" r="0.7" fill="#7fcdbb"/></g>
<g font-family="Liberation Sans, sans-serif" font-size="13" fill="#5b5b5b">
<text x="151.5" y="494.4" text-anchor="middle">No data</text>
<line x1="151.5" y1="498.5" x2="151.5" y2="501.4" stroke="#999" stroke-width="0.6"/>
<rect x="127.6" y="501.4" width="47.8" height="11.2" fill="url(#hatch)" stroke="#bbb" stroke-width="0.5"/>
<path d="M195.40,507 L200.40,501.4 L253.91,501.4 L253.91,512.6 L200.40,512.6 Z" fill="#0c2c84" stroke="#999" stroke-width="0.4"/><line x1="224.66" y1="498.5" x2="224.66" y2="501.4" stroke="#999" stroke-width="0.6"/><text x="224.66" y="494.4" text-anchor="middle">50s</text><rect x="253.91" y="501.4" width="58.51" height="11.2" fill="#225ea8" stroke="#999" stroke-width="0.4"/><line x1="283.17" y1="498.5" x2="283.17" y2="501.4" stroke="#999" stroke-width="0.6"/><text x="283.17" y="494.4" text-anchor="middle">60s</text><rect x="312.42" y="501.4" width="58.51" height="11.2" fill="#1d91c0" stroke="#999" stroke-width="0.4"/><line x1="341.68" y1="498.5" x2="341.68" y2="501.4" stroke="#999" stroke-width="0.6"/><text x="341.68" y="494.4" text-anchor="middle">70s</text><rect x="370.93" y="501.4" width="58.51" height="11.2" fill="#41b6c4" stroke="#999" stroke-width="0.4"/><line x1="400.19" y1="498.5" x2="400.19" y2="501.4" stroke="#999" stroke-width="0.6"/><text x="400.19" y="494.4" text-anchor="middle">80s</text><rect x="429.44" y="501.4" width="58.51" height="11.2" fill="#7fcdbb" stroke="#999" stroke-width="0.4"/><line x1="458.70" y1="498.5" x2="458.70" y2="501.4" stroke="#999" stroke-width="0.6"/><text x="458.70" y="494.4" text-anchor="middle">90s</text><rect x="487.96" y="501.4" width="58.51" height="11.2" fill="#c7e9b4" stroke="#999" stroke-width="0.4"/><line x1="517.21" y1="498.5" x2="517.21" y2="501.4" stroke="#999" stroke-width="0.6"/><text x="517.21" y="494.4" text-anchor="middle">00s</text><rect x="546.47" y="501.4" width="58.51" height="11.2" fill="#edf8b1" stroke="#999" stroke-width="0.4"/><line x1="575.72" y1="498.5" x2="575.72" y2="501.4" stroke="#999" stroke-width="0.6"/><text x="575.72" y="494.4" text-anchor="middle">10s</text><rect x="604.98" y="501.4" width="58.51" height="11.2" fill="#ec9432" stroke="#999" stroke-width="0.4"/><line x1="634.23" y1="498.5" x2="634.23" y2="501.4" stroke="#999" stroke-width="0.6"/><text x="634.23" y="494.4" text-anchor="middle">Affected</text><rect x="663.49" y="501.4" width="58.51" height="11.2" fill="#d73c50" stroke="#999" stroke-width="0.4"/><line x1="692.74" y1="498.5" x2="692.74" y2="501.4" stroke="#999" stroke-width="0.6"/><text x="692.74" y="494.4" text-anchor="middle">Endemic</text>
</g>
</svg>
<div class="foot" style="top:533px;word-spacing:0.4px;"><b>Data source:</b> Global Polio Eradication Initiative (2023)</div>
<div class="foot" style="top:533px;left:auto;right:18px;letter-spacing:0.15px;">OurWorldinData.org/polio | CC BY</div>
<div class="foot" style="top:553px;word-spacing:0.35px;"><b>Note:</b> The following countries eradicated polio before 1960 but are hard to see in the map at the moment: Nauru (1910), Tuvalu (1936), Palau</div>
<div class="foot" style="top:568px;word-spacing:-0.6px;">(1940), American Samoa, Niue and Tokelau (1950), Cayman Islands (1958), and Andorra and Cook Islands (1959).</div>
</body></html>
